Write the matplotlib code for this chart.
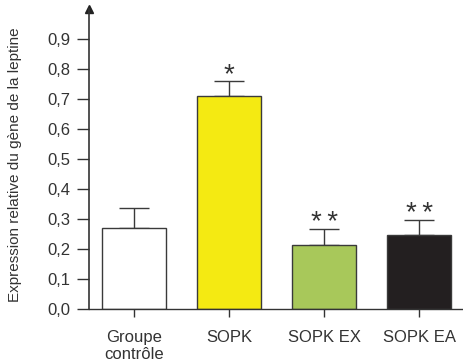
import matplotlib.pyplot as plt
import numpy as np

plt.rcParams['font.family'] = ['Liberation Sans', 'DejaVu Sans']

groups = ['Groupe\ncontrôle', 'SOPK', 'SOPK EX', 'SOPK EA']
values = [0.27, 0.71, 0.213, 0.247]
errors = [0.067, 0.05, 0.054, 0.05]
stars = ['', '*', '*\u2009*', '*\u2009*']
colors = ['white', '#F4EA12', '#A8C85A', '#231F20']
yticks = [0.0, 0.1, 0.2, 0.3, 0.4, 0.5, 0.6, 0.7, 0.8, 0.9]

txt = '#333333'

fig = plt.figure(figsize=(4.63, 3.64), dpi=100)
ax = fig.add_axes([89 / 463, 55 / 364, 1 - 89 / 463, 300 / 364])

x = np.arange(len(groups))
ax.bar(x, values, width=0.67, color=colors, edgecolor='#3a3a3a', linewidth=1.0, zorder=2)
ax.errorbar(x, values, yerr=[np.zeros(len(values)), errors], fmt='none',
            ecolor='#3a3a3a', elinewidth=1.0, capsize=10.8, capthick=1.0, zorder=1)

for xi, v, e, s in zip(x, values, errors, stars):
    if s:
        ax.annotate(s, (xi, v + e), xytext=(0, -1), textcoords='offset points',
                    ha='center', va='baseline', fontsize=20, color=txt)

ax.set_xlim(-0.47, 3.46)
ax.set_ylim(0, 1.0)
ax.set_yticks(yticks)
ax.set_yticklabels([f'{t:.1f}'.replace('.', ',') for t in yticks])
ax.set_xticks(x)
ax.set_xticklabels(groups, linespacing=1.2)
ax.tick_params(axis='y', length=8.6, width=1.0, color='#333333', labelsize=12,
               labelcolor=txt, pad=5)
ax.tick_params(axis='x', length=6, width=1.0, color='#333333', labelsize=12,
               labelcolor=txt, pad=9)

for side in ['top', 'right']:
    ax.spines[side].set_visible(False)
ax.spines['left'].set_color('#333333')
ax.spines['bottom'].set_color('#333333')
ax.spines['left'].set_linewidth(1.2)
ax.spines['bottom'].set_linewidth(1.0)

# arrow head on the y axis
ax.plot(0, 1, marker='^', color='#222222', markersize=6, transform=ax.transAxes, clip_on=False)

ax.set_ylabel('Expression relative du gène de la leptine', fontsize=11, color=txt)
ax.yaxis.set_label_coords(-0.18, 0.48)

fig.savefig('out.png', dpi=100)
